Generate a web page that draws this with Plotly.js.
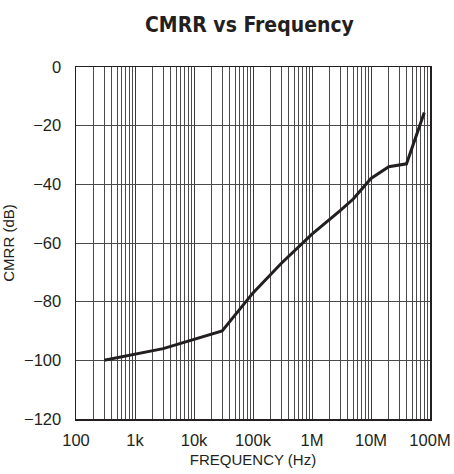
<!DOCTYPE html>
<html>
<head>
<meta charset="utf-8">
<script src="https://cdn.plot.ly/plotly-3.0.1.min.js"></script>
<style>html,body{margin:0;padding:0;background:#fff;}#chart{width:454px;height:474px;}</style>
</head>
<body>
<div id="chart"></div>
<script>
// Data
var freqHz = [300, 1000, 3000, 30000, 100000, 300000, 1000000, 3000000, 5000000, 10000000, 20000000, 40000000, 80000000];
var cmrrDb = [-100, -98, -96, -90, -77, -67, -57, -49, -45, -38, -34, -33, -15.5];

var xTickVals = [1e2, 1e3, 1e4, 1e5, 1e6, 1e7, 1e8];
var xTickText = ["100", "1k", "10k", "100k", "1M", "10M", "100M"];
var yTickVals = [0, -20, -40, -60, -80, -100, -120];
var yTickText = ["0", "\u221220", "\u221240", "\u221260", "\u221280", "\u2212100", "\u2212120"];

// minor grid positions (2..9 within each decade)
var minorVals = [];
for (var d = 2; d < 8; d++) {
  for (var m = 2; m <= 9; m++) minorVals.push(m * Math.pow(10, d));
}

var textFam = '"Liberation Sans", Arial, Helvetica, sans-serif';
var titleFam = '"DejaVu Sans Condensed", "Liberation Sans", sans-serif';

var trace = {
  x: freqHz, y: cmrrDb, type: 'scatter', mode: 'lines',
  line: {color: '#231f20', width: 3},
  hoverinfo: 'skip'
};

var layout = {
  width: 454, height: 474,
  margin: {l: 76, r: 24, t: 67, b: 55},
  paper_bgcolor: '#fff', plot_bgcolor: '#fff',
  showlegend: false,
  title: {
    text: '<b>CMRR vs Frequency</b>',
    font: {family: titleFam, size: 21, color: '#231f20'},
    xref: 'paper', x: 0.49, xanchor: 'center', y: 0.948, yanchor: 'middle'
  },
  xaxis: {
    type: 'log', range: [2, 8],
    tickmode: 'array', tickvals: xTickVals, ticktext: xTickText,
    ticks: '', ticklabelstandoff: 6,
    tickfont: {family: textFam, size: 16.5, color: '#231f20'},
    showgrid: true, gridcolor: '#3a3a3a', gridwidth: 1,
    minor: {tickmode: 'array', tickvals: minorVals, showgrid: true, gridcolor: '#4a4a4a', gridwidth: 1, ticks: ''},
    showline: true, mirror: true, linecolor: '#231f20', linewidth: 1.5,
    zeroline: false,
    title: {text: 'FREQUENCY (Hz)', font: {family: textFam, size: 15, color: '#231f20'}, standoff: 6}
  },
  yaxis: {
    range: [-120, 0],
    tickmode: 'array', tickvals: yTickVals, ticktext: yTickText,
    ticks: '', ticklabelstandoff: 10,
    tickfont: {family: textFam, size: 16.5, color: '#231f20'},
    showgrid: true, gridcolor: '#4a4a4a', gridwidth: 1,
    showline: true, mirror: true, linecolor: '#231f20', linewidth: 1.5,
    zeroline: false,
    title: {text: 'CMRR (dB)', font: {family: textFam, size: 15, color: '#231f20'}, standoff: 10}
  }
};

Plotly.newPlot('chart', [trace], layout, {displayModeBar: false, staticPlot: true});
</script>
</body>
</html>
